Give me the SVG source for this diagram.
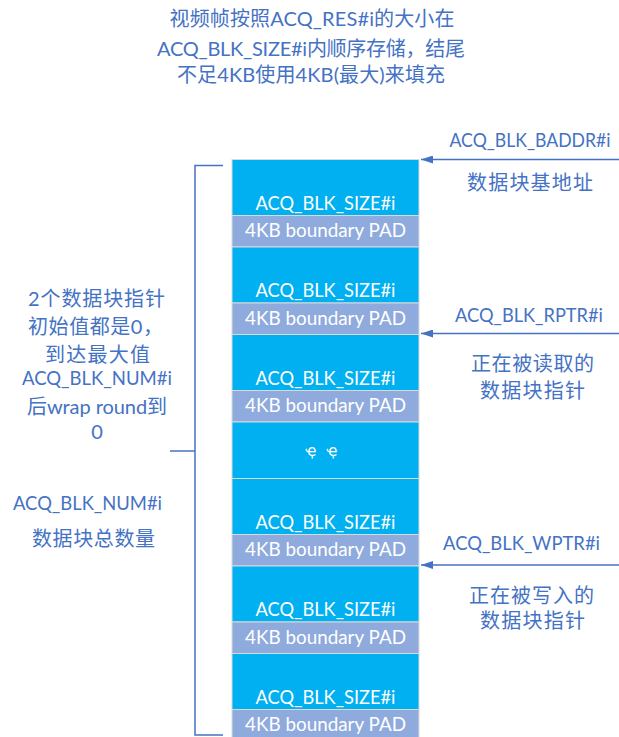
<svg xmlns="http://www.w3.org/2000/svg" width="619" height="737" viewBox="0 0 619 737">
<style>
  .t{font-family:Lato,"Noto Sans CJK SC",sans-serif;fill:#4472C4;font-size:20px;text-anchor:middle}
  .w{font-family:Lato,"Noto Sans CJK SC",sans-serif;fill:#FFFFFF;font-size:19.5px;text-anchor:middle}
  .s{font-size:19.5px}
  .blue{fill:#00B0F0;stroke:#DADADA;stroke-width:1}
  .pad{fill:#8FAADC;stroke:#DADADA;stroke-width:1}
  .ln{stroke:#4472C4;stroke-width:1.5;fill:none}
</style>
<defs>
  <marker id="ah2" viewBox="0 0 12 8" refX="12" refY="4" markerWidth="12" markerHeight="8" markerUnits="userSpaceOnUse" orient="auto">
    <path d="M0,0 L12,4 L0,8 z" fill="#4472C4"/>
  </marker>
</defs>
<rect width="619" height="737" fill="#FFFFFF"/>

<g id="title">
  <text class="t" x="312" y="25.5" textLength="285">视频帧按照ACQ_RES#i的大小在</text>
  <text class="t" x="311" y="55.5" textLength="308">ACQ_BLK_SIZE#i内顺序存储，结尾</text>
  <text class="t" x="311" y="82" textLength="268">不足4KB使用4KB(最大)来填充</text>
</g>

<g id="block1">
  <rect class="blue" x="232" y="159.5" width="187" height="56"/>
  <rect class="pad" x="232" y="215.5" width="187" height="31.5"/>
  <text class="w" x="325.5" y="209.5" textLength="140" lengthAdjust="spacingAndGlyphs">ACQ_BLK_SIZE#i</text>
  <text class="w" x="325.5" y="237" textLength="161" lengthAdjust="spacingAndGlyphs">4KB boundary PAD</text>
</g>
<g id="block2">
  <rect class="blue" x="232" y="247" width="187" height="56"/>
  <rect class="pad" x="232" y="303" width="187" height="31.5"/>
  <text class="w" x="325.5" y="297" textLength="140" lengthAdjust="spacingAndGlyphs">ACQ_BLK_SIZE#i</text>
  <text class="w" x="325.5" y="324.5" textLength="161" lengthAdjust="spacingAndGlyphs">4KB boundary PAD</text>
</g>
<g id="block3">
  <rect class="blue" x="232" y="334.5" width="187" height="56"/>
  <rect class="pad" x="232" y="390.5" width="187" height="31.5"/>
  <text class="w" x="325.5" y="384.5" textLength="140" lengthAdjust="spacingAndGlyphs">ACQ_BLK_SIZE#i</text>
  <text class="w" x="325.5" y="412" textLength="161" lengthAdjust="spacingAndGlyphs">4KB boundary PAD</text>
</g>
<g id="ellipsis">
  <rect class="blue" x="232" y="422" width="187" height="56.5"/>
  <text x="311" y="455.5" font-family="DejaVu Sans, sans-serif" font-size="15" fill="#FFFFFF" text-anchor="middle">ҿ</text>
  <text x="332" y="455.5" font-family="DejaVu Sans, sans-serif" font-size="15" fill="#FFFFFF" text-anchor="middle">ҿ</text>
</g>
<g id="block4">
  <rect class="blue" x="232" y="478.5" width="187" height="56"/>
  <rect class="pad" x="232" y="534.5" width="187" height="31.5"/>
  <text class="w" x="325.5" y="528.5" textLength="140" lengthAdjust="spacingAndGlyphs">ACQ_BLK_SIZE#i</text>
  <text class="w" x="325.5" y="556" textLength="161" lengthAdjust="spacingAndGlyphs">4KB boundary PAD</text>
</g>
<g id="block5">
  <rect class="blue" x="232" y="566" width="187" height="56"/>
  <rect class="pad" x="232" y="622" width="187" height="31.5"/>
  <text class="w" x="325.5" y="616" textLength="140" lengthAdjust="spacingAndGlyphs">ACQ_BLK_SIZE#i</text>
  <text class="w" x="325.5" y="643.5" textLength="161" lengthAdjust="spacingAndGlyphs">4KB boundary PAD</text>
</g>
<g id="block6">
  <rect class="blue" x="232" y="653.5" width="187" height="56"/>
  <rect class="pad" x="232" y="709.5" width="187" height="31.5"/>
  <text class="w" x="325.5" y="703.5" textLength="140" lengthAdjust="spacingAndGlyphs">ACQ_BLK_SIZE#i</text>
  <text class="w" x="325.5" y="731" textLength="161" lengthAdjust="spacingAndGlyphs">4KB boundary PAD</text>
</g>

<g id="connectors">
  <path class="ln" d="M223,165.5 H195 V735 H223"/>
  <path class="ln" d="M170,451 H195"/>
  <line class="ln" x1="619" y1="159.5" x2="421" y2="159.5" marker-end="url(#ah2)"/>
  <line class="ln" x1="619" y1="333.5" x2="421" y2="333.5" marker-end="url(#ah2)"/>
  <line class="ln" x1="619" y1="565" x2="421" y2="565" marker-end="url(#ah2)"/>
</g>

<g id="label-baddr">
  <text class="t s" x="530" y="147" textLength="161" lengthAdjust="spacingAndGlyphs">ACQ_BLK_BADDR#i</text>
  <text class="t" x="530" y="189.5" textLength="126">数据块基地址</text>
</g>
<g id="label-rptr">
  <text class="t s" x="529" y="321.5" textLength="148" lengthAdjust="spacingAndGlyphs">ACQ_BLK_RPTR#i</text>
  <text class="t" x="532.5" y="370.5" textLength="123">正在被读取的</text>
  <text class="t" x="532.5" y="397.5" textLength="105">数据块指针</text>
</g>
<g id="label-wptr">
  <text class="t s" x="521.5" y="550" textLength="157" lengthAdjust="spacingAndGlyphs">ACQ_BLK_WPTR#i</text>
  <text class="t" x="531.5" y="602.5" textLength="125">正在被写入的</text>
  <text class="t" x="532.5" y="627.5" textLength="105">数据块指针</text>
</g>
<g id="label-left">
  <text class="t" x="96.5" y="305.5" textLength="137">2个数据块指针</text>
  <text class="t" x="28" y="334" textLength="135" style="text-anchor:start">初始值都是0，</text>
  <text class="t" x="97.5" y="361.5" textLength="105">到达最大值</text>
  <text class="t s" x="97" y="385" textLength="150" lengthAdjust="spacingAndGlyphs">ACQ_BLK_NUM#i</text>
  <text class="t" x="97" y="413.5" textLength="140">后wrap round到</text>
  <text class="t" x="97" y="438.5">0</text>
</g>
<g id="label-num">
  <text class="t s" x="87.5" y="510" textLength="149" lengthAdjust="spacingAndGlyphs">ACQ_BLK_NUM#i</text>
  <text class="t" x="93.5" y="545.5" textLength="123">数据块总数量</text>
</g>
</svg>
